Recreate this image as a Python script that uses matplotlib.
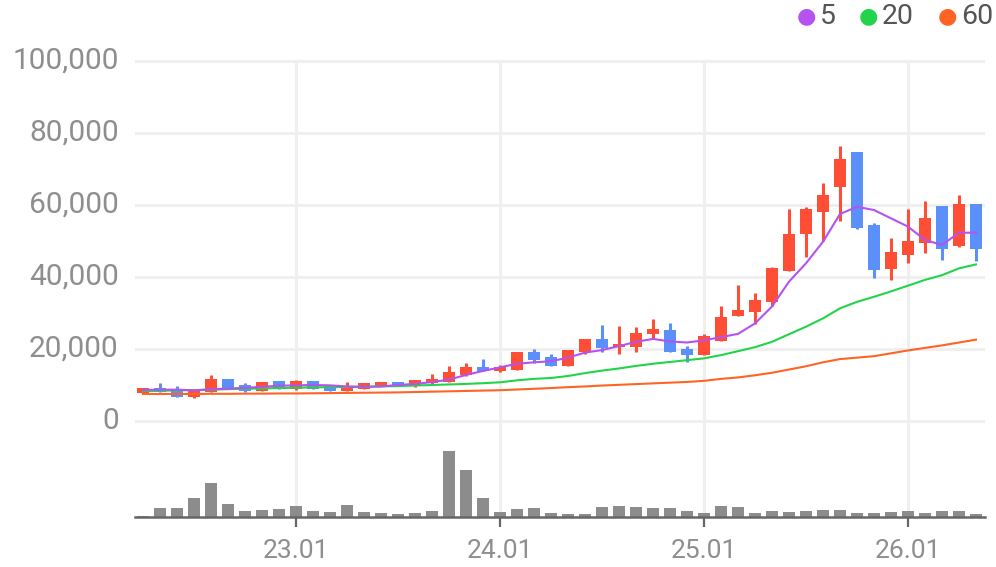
import numpy as np
import pandas as pd
import matplotlib
matplotlib.use("Agg")
import matplotlib.pyplot as plt

plt.rcParams['font.family'] = ['Roboto', 'DejaVu Sans']

# monthly candles 2022-04 .. 2026-05
months = pd.period_range('2022-04', '2026-05', freq='M')
opens = [7778, 9167, 8889, 6667, 8056, 11667, 10000, 8333, 11111, 8889,
         11111, 10000, 8333, 8889, 9722, 10833, 9722, 10556, 10833, 12778,
         15000, 13889, 14167, 19167, 17778, 15278, 19167, 22778, 20556, 20556,
         24167, 25278, 20000, 18333, 22306, 29250, 30361, 33139, 41750, 52028,
         58139, 65083, 74722, 54444, 42306, 46194, 49528, 59722, 48694, 60278]
highs = [9167, 10556, 9722, 8889, 12778, 11667, 10556, 10833, 11111, 11389,
         11111, 10000, 10833, 10556, 10833, 10833, 11389, 13056, 15278, 16111,
         17222, 15556, 19167, 20000, 18611, 19722, 22778, 26667, 26389, 26111,
         28333, 27222, 20833, 24167, 31944, 37778, 35556, 42861, 58889, 59444,
         66111, 76389, 74722, 54917, 50833, 58889, 61111, 59722, 62778, 60278]
lows = [7778, 8150, 6667, 6389, 8056, 8889, 8056, 8333, 8889, 8611,
        8889, 8333, 8333, 8889, 9722, 9722, 9444, 10278, 10833, 12500,
        13889, 13611, 14167, 16111, 15278, 15278, 18611, 19167, 18611, 19167,
        23056, 19167, 16389, 18333, 22306, 29250, 26944, 32028, 41750, 45639,
        50083, 55639, 53417, 39806, 39250, 43972, 46750, 44806, 48417, 44528]
closes = [9167, 8150, 6667, 8889, 11667, 8889, 8333, 10833, 8889, 11111,
          8889, 8333, 9722, 10556, 10833, 9722, 11389, 11667, 13611, 15000,
          13889, 15000, 19167, 16944, 15278, 19722, 22778, 20278, 21389, 24444,
          25556, 19167, 18333, 23611, 28889, 30833, 33611, 42583, 51944, 58889,
          62778, 72778, 53694, 42028, 46944, 50000, 56389, 47861, 60278, 47861]
volumes = [1.3, 9.3, 9.3, 19.3, 34.3, 13.3, 6.3, 7.3, 8.3, 11.3,
           6.3, 5.3, 12.3, 5.3, 4.3, 3.3, 4.3, 6.3, 66.3, 47.3,
           19.3, 5.3, 8.3, 9.3, 4.3, 3.3, 3.3, 10.3, 11.3, 10.3,
           9.3, 9.3, 6.3, 4.3, 11.3, 10.3, 4.3, 6.3, 5.3, 6.3,
           7.3, 7.3, 4.3, 4.3, 5.3, 6.3, 4.3, 6.3, 6.3, 3.3]
ma5 = [8600, 8700, 8700, 8500, 8800, 9000, 9200, 9500, 9800, 9900,
       10000, 9900, 9600, 9500, 9600, 10000, 10300, 10800, 11500, 12800,
       13900, 14900, 15900, 16300, 16600, 17600, 19000, 19700, 20800, 22000,
       22800, 22100, 21800, 22400, 23300, 24200, 27100, 31800, 38700, 43800,
       49800, 57500, 59500, 58600, 56300, 54000, 50300, 48900, 52300, 52300]
ma20 = [8300, 8400, 8500, 8600, 8700, 8850, 8950, 9050, 9150, 9250,
        9350, 9400, 9450, 9500, 9600, 9700, 9850, 10000, 10150, 10300,
        10500, 10750, 11300, 11700, 11950, 12500, 13300, 14000, 14600, 15300,
        15900, 16400, 16900, 17400, 18300, 19400, 20500, 22000, 24100, 26200,
        28500, 31300, 33100, 34500, 36000, 37600, 39200, 40500, 42400, 43500]
ma60 = [7500, 7500, 7500, 7500, 7550, 7550, 7600, 7600, 7650, 7650,
        7700, 7750, 7800, 7850, 7900, 7950, 8050, 8150, 8250, 8350,
        8450, 8550, 8750, 8950, 9150, 9400, 9600, 9850, 10050, 10250,
        10450, 10650, 10850, 11150, 11700, 12100, 12700, 13400, 14300, 15200,
        16300, 17200, 17600, 18000, 18800, 19600, 20300, 21000, 21800, 22600]
tick_labels = ['23.01', '24.01', '25.01', '26.01']
yticks = [0, 20000, 40000, 60000, 80000, 100000]
ma_names = ['5', '20', '60']

up_color = '#ff4e36'
down_color = '#5b8ff9'
ma_colors = ['#b552f0', '#22d44a', '#ff6424']
grid_color = '#efefef'
text_color = '#8e8e8e'

W, H = 996, 567
fig = plt.figure(figsize=(W / 100, H / 100), dpi=100)

left, right = 135, 985
ax = fig.add_axes([left / W, (H - 440) / H, (right - left) / W, (440 - 45) / H])
vax = fig.add_axes([left / W, (H - 517) / H, (right - left) / W, (517 - 440) / H])

x = np.arange(len(months))
tick_pos = [i for i, m in enumerate(months) if m.month == 1]
xlim = (-0.47, len(months) - 0.47)

# price panel
ymin, ymax = -5278, 104444
for yt in yticks:
    ax.axhline(yt, color=grid_color, lw=2.2, zorder=0)
    ax.text(xlim[0] - 0.95, yt, f'{yt:,}', ha='right', va='center',
            fontsize=21.5, color=text_color)
ax.vlines(tick_pos, ymin, 100000, color=grid_color, lw=2.2, zorder=0)

o = np.array(opens)
c = np.array(closes)
up = c >= o
colors = np.where(up, up_color, down_color)
ax.vlines(x, lows, highs, colors=colors, lw=2.2, zorder=2)
bottom = np.minimum(o, c)
height = np.maximum(np.abs(c - o), 300)
ax.bar(x, height, bottom=bottom, width=0.76, color=colors, zorder=3)

for vals, col in zip([ma60, ma20, ma5], ma_colors[::-1]):
    ax.plot(x, vals, color=col, lw=1.5, zorder=4)

ax.set_xlim(*xlim)
ax.set_ylim(ymin, ymax)
ax.axis('off')

# volume panel
vax.vlines(tick_pos, 0, 80, color=grid_color, lw=2.2, zorder=0)
vax.bar(x, volumes, width=0.65, color='#8c8c8c', zorder=2)
vax.set_xlim(*xlim)
vax.set_ylim(0, 77)
for s in ['top', 'left', 'right']:
    vax.spines[s].set_visible(False)
vax.spines['bottom'].set_color('#666666')
vax.spines['bottom'].set_linewidth(1.8)
vax.set_yticks([])
vax.set_xticks(tick_pos)
vax.set_xticklabels(tick_labels, fontsize=19, color=text_color)
vax.tick_params(axis='x', length=7, width=1.6, color='#666666', pad=9)

# legend
lx = [806, 868, 947]
for px, name, col in zip(lx, ma_names, ma_colors):
    fig.text(px / W, 1 - 17 / H, '\u25cf', color=col, fontsize=16,
             ha='center', va='center')
    fig.text((px + 14) / W, 1 - 17 / H, name, color='#555555', fontsize=20.5,
             ha='left', va='center')

fig.savefig('out.png', dpi=100)
